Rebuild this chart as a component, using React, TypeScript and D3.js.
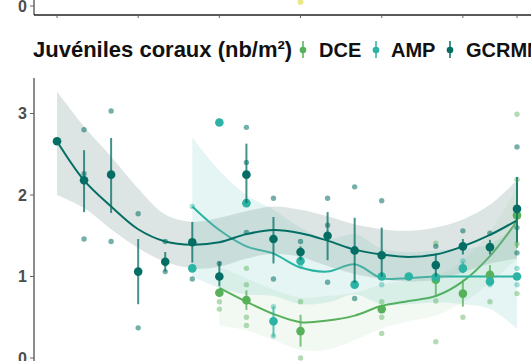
import React from "react";
import * as d3 from "d3";

// years on the x axis
const years = [2002, 2003, 2004, 2005, 2006, 2007, 2008, 2009, 2010, 2011, 2012, 2013, 2014, 2015, 2016, 2017, 2018, 2019];
const xTicks = [2002, 2005, 2008, 2011, 2014, 2017, 2019];
const yTicks = [0, 1, 2, 3];

// mean values (null = no survey)
const gcrmnMean = [2.66, 2.18, 2.25, 1.06, 1.18, 1.42, 1.0, 2.25, 1.46, 1.3, 1.5, 1.32, 1.26, null, 1.14, 1.37, 1.36, 1.83];
const gcrmnLo = [null, 1.79, 1.78, 0.66, 1.06, 1.17, 0.88, 1.9, 1.16, 1.2, 1.2, 0.92, 1.0, null, 1.0, 1.27, 1.27, 1.42];
const gcrmnHi = [null, 2.55, 2.7, 1.46, 1.3, 1.67, 1.18, 2.63, 1.73, 1.37, 1.79, 1.72, 1.6, null, 1.28, 1.46, 1.45, 2.22];

const ampMean = [null, null, null, null, null, 1.1, 2.89, 1.9, 0.45, 1.19, null, 0.9, 1.0, 1.0, 0.99, 1.1, 0.94, 1.0];
const ampLo = [null, null, null, null, null, null, null, null, 0.26, null, null, null, null, null, null, 1.04, null, null];
const ampHi = [null, null, null, null, null, null, null, null, 0.63, null, null, null, null, null, null, 1.18, null, null];

const dceMean = [null, null, null, null, null, null, 0.8, 0.71, null, 0.33, null, null, 0.6, null, 0.96, 0.79, 1.02, 1.75];
const dceLo = [null, null, null, null, null, null, null, 0.59, null, 0.14, null, null, null, null, 0.75, 0.63, 0.92, 1.35];
const dceHi = [null, null, null, null, null, null, null, 0.83, null, 0.53, null, null, null, null, 1.05, 0.96, 1.14, 2.15];

// individual site values
const gcrmnRaw = [
  [2003, 2.8], [2003, 2.26], [2003, 1.46], [2004, 3.03], [2004, 1.43], [2005, 1.77], [2005, 0.37],
  [2006, 1.43], [2006, 1.06], [2007, 0.97], [2008, 1.16], [2009, 2.83], [2009, 2.4], [2009, 1.54],
  [2010, 1.96], [2010, 0.97], [2011, 1.43], [2012, 1.96], [2012, 1.63], [2012, 0.93], [2013, 2.1],
  [2013, 0.73], [2014, 1.93], [2016, 1.37], [2017, 1.56], [2018, 1.53], [2019, 2.59], [2019, 1.6], [2019, 1.29],
];
const ampRaw = [
  [2007, 1.86], [2010, 0.63], [2010, 0.27], [2011, 1.13], [2014, 0.9], [2017, 1.19], [2018, 0.9], [2019, 1.1], [2019, 0.9],
];
const dceRaw = [
  [2008, 0.69], [2008, 0.6], [2009, 1.1], [2009, 0.9], [2009, 0.5], [2009, 0.4], [2011, 0.69], [2011, 0.0],
  [2014, 0.69], [2014, 0.5], [2014, 0.3], [2016, 1.41], [2016, 0.7], [2016, 0.2], [2017, 0.5], [2018, 0.69],
  [2019, 2.99], [2019, 2.19], [2019, 1.4], [2019, 0.79],
];

// smoothed trend with its confidence band
const gcrmnFit = [2.66, 2.18, 1.86, 1.58, 1.43, 1.39, 1.42, 1.52, 1.57, 1.53, 1.44, 1.33, 1.27, 1.24, 1.27, 1.37, 1.51, 1.69];
const gcrmnFitHi = [3.27, 2.84, 2.47, 2.08, 1.76, 1.67, 1.72, 1.8, 1.86, 1.82, 1.74, 1.64, 1.58, 1.56, 1.6, 1.7, 1.88, 2.18];
const gcrmnFitLo = [2.0, 1.84, 1.58, 1.35, 1.18, 1.1, 1.12, 1.22, 1.28, 1.24, 1.13, 1.03, 0.97, 0.94, 0.96, 1.05, 1.16, 1.22];

const ampYears = years.slice(5);
const ampFit = [1.86, 1.57, 1.37, 1.28, 1.11, 1.06, 1.15, 0.98, 0.98, 1.0, 1.0, 1.0, 1.0];
const ampFitHi = [2.71, 2.3, 2.0, 1.82, 1.6, 1.46, 1.52, 1.34, 1.3, 1.32, 1.34, 1.4, 1.62];
const ampFitLo = [1.0, 0.86, 0.78, 0.76, 0.66, 0.68, 0.78, 0.66, 0.66, 0.68, 0.66, 0.6, 0.36];

const dceYears = years.slice(6);
const dceFit = [0.86, 0.69, 0.54, 0.44, 0.46, 0.52, 0.64, 0.7, 0.76, 0.94, 1.25, 1.68];
const dceFitHi = [1.12, 0.98, 0.84, 0.74, 0.76, 0.8, 0.9, 0.95, 1.0, 1.2, 1.55, 2.1];
const dceFitLo = [0.4, 0.34, 0.22, 0.1, 0.1, 0.22, 0.36, 0.45, 0.52, 0.68, 0.92, 1.22];

// top panel leftover point
const topPoint = [2011, 0];

const COL = { DCE: "#56b15a", AMP: "#2bb3a3", GCRMN: "#046e64" };
const FONT = "'Liberation Sans', Arial, sans-serif";

export default function App() {
  const W = 531, H = 361;
  const x = d3.scaleLinear().domain([2002, 2019]).range([57, 517]);
  const y = d3.scaleLinear().domain([0, 3]).range([358, 113.5]);
  const yTop = d3.scaleLinear().domain([0, 1]).range([6, -60]);
  const curve = d3.curveCatmullRom.alpha(0.5);

  const area = (yrs: number[], lo: number[], hi: number[]) =>
    d3.area<number>().x((_, i) => x(yrs[i])).y0((_, i) => y(lo[i])).y1((_, i) => y(hi[i])).curve(curve)(lo) || "";
  const line = (yrs: number[], v: number[]) =>
    d3.line<number>().x((_, i) => x(yrs[i])).y((d) => y(d)).curve(curve)(v) || "";

  const smooths = [
    { key: "DCE", yrs: dceYears, fit: dceFit, lo: dceFitLo, hi: dceFitHi, fill: COL.DCE, op: 0.08 },
    { key: "AMP", yrs: ampYears, fit: ampFit, lo: ampFitLo, hi: ampFitHi, fill: COL.AMP, op: 0.13 },
    { key: "GCRMN", yrs: years, fit: gcrmnFit, lo: gcrmnFitLo, hi: gcrmnFitHi, fill: "#8aa8a3", op: 0.3 },
  ];
  const raws = [
    { key: "DCE", pts: dceRaw, op: 0.45 },
    { key: "AMP", pts: ampRaw, op: 0.45 },
    { key: "GCRMN", pts: gcrmnRaw, op: 0.55 },
  ];
  const means = [
    { key: "DCE", m: dceMean, lo: dceLo, hi: dceHi },
    { key: "AMP", m: ampMean, lo: ampLo, hi: ampHi },
    { key: "GCRMN", m: gcrmnMean, lo: gcrmnLo, hi: gcrmnHi },
  ];
  const legend = [
    { key: "DCE", gx: 303, tx: 319 },
    { key: "AMP", gx: 376, tx: 391 },
    { key: "GCRMN", gx: 450, tx: 466 },
  ];

  return (
    <svg width={W} height={H} style={{ position: "absolute", left: 0, top: 0, background: "#fff" }} fontFamily={FONT}>
      {/* top panel remainder */}
      <line x1={34} x2={34} y1={0} y2={15} stroke="#666" strokeWidth={1.5} />
      <line x1={30} x2={34} y1={yTop(0)} y2={yTop(0)} stroke="#666" />
      <text x={27} y={yTop(0)} dy="0.36em" textAnchor="end" fontSize={16} fontWeight="bold" fill="#4d4d4d">0</text>
      <line x1={34} x2={W} y1={15} y2={15} stroke="#222" strokeWidth={1.3} />
      {xTicks.map((t) => (
        <line key={t} x1={x(t)} x2={x(t)} y1={15} y2={18} stroke="#666" />
      ))}
      <circle cx={x(topPoint[0])} cy={yTop(topPoint[1]) - 4} r={3} fill="#e3e36e" opacity={0.8} />

      {/* title + legend */}
      <text x={33} y={57} fontSize={22} fontWeight="bold" fill="#111">Juvéniles coraux (nb/m²)</text>
      {legend.map((l) => (
        <g key={l.key}>
          <line x1={l.gx} x2={l.gx} y1={41} y2={58} stroke={COL[l.key]} strokeWidth={1.5} />
          <circle cx={l.gx} cy={50} r={3.3} fill={COL[l.key]} />
          <text x={l.tx} y={57} fontSize={20} fontWeight="bold" fill="#111">{l.key}</text>
        </g>
      ))}

      {/* y axis */}
      <line x1={34} x2={34} y1={78} y2={H} stroke="#666" strokeWidth={1.5} />
      {yTicks.map((t) => (
        <g key={t}>
          <line x1={30} x2={34} y1={y(t)} y2={y(t)} stroke="#666" />
          <text x={27} y={y(t)} dy="0.36em" textAnchor="end" fontSize={16} fontWeight="bold" fill="#4d4d4d">{t}</text>
        </g>
      ))}

      {/* smooth bands and lines */}
      {smooths.map((s) => (
        <g key={s.key}>
          <path d={area(s.yrs, s.lo, s.hi)} fill={s.fill} opacity={s.op} />
          <path d={line(s.yrs, s.fit)} fill="none" stroke={COL[s.key]} strokeWidth={2} />
        </g>
      ))}

      {/* site values */}
      {raws.map((r) =>
        r.pts.map((p, i) => (
          <circle key={r.key + i} cx={x(p[0])} cy={y(p[1])} r={2.7} fill={COL[r.key]} opacity={r.op} />
        ))
      )}

      {/* means with error bars */}
      {means.map((s) =>
        years.map((yr, i) => (
          <g key={s.key + yr}>
            {s.lo[i] != null && (
              <line x1={x(yr)} x2={x(yr)} y1={y(s.lo[i] as number)} y2={y(s.hi[i] as number)} stroke={COL[s.key]} strokeWidth={2} opacity={0.75} />
            )}
            {s.m[i] != null && <circle cx={x(yr)} cy={y(s.m[i] as number)} r={4.3} fill={COL[s.key]} />}
          </g>
        ))
      )}
    </svg>
  );
}
